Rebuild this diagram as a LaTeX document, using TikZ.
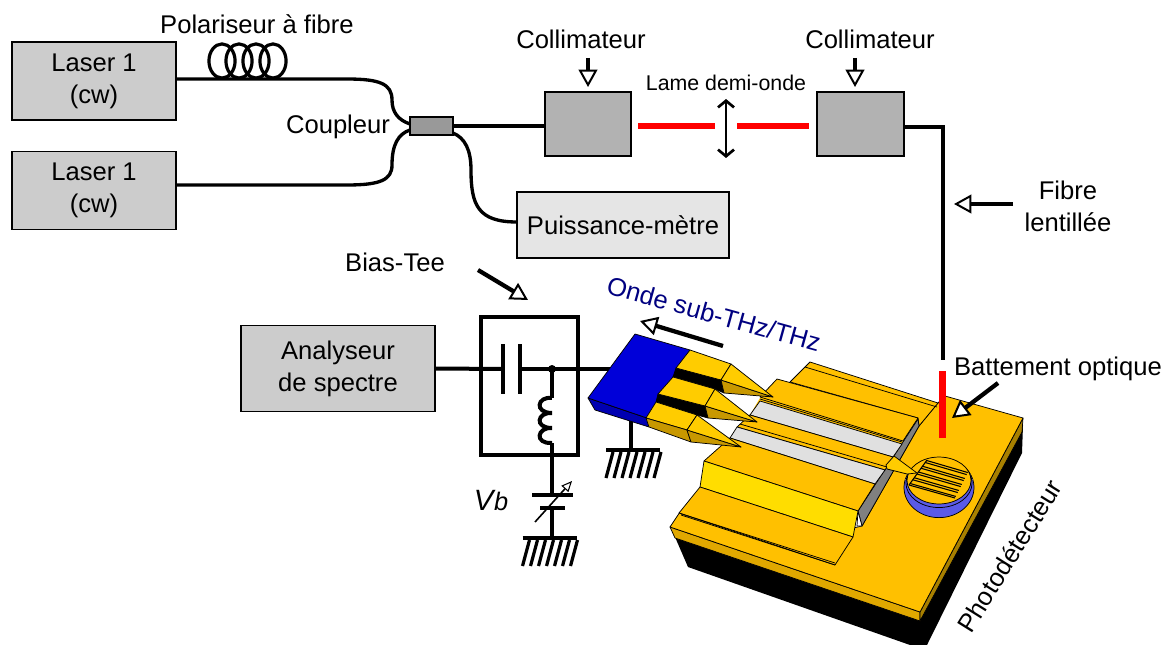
\documentclass[tikz,border=0pt]{standalone}
\usepackage{fontspec}
\setmainfont{Liberation Sans}
\usetikzlibrary{arrows.meta,calc}
\definecolor{chipO}{HTML}{FFC000}
\definecolor{chipY}{HTML}{FFDD00}
\definecolor{chipS}{HTML}{E0A800}
\definecolor{chipD}{HTML}{A88000}
\definecolor{padY}{HTML}{FFCC00}
\definecolor{padS}{HTML}{C89800}
\definecolor{wafer}{HTML}{5A5AE6}
\definecolor{stripG}{HTML}{E0E0E0}
\definecolor{navyT}{HTML}{000080}
\tikzset{
 x=0.75pt,y=-0.75pt,
 txt/.style={font=\fontsize{19.2}{24}\selectfont,inner sep=0pt,align=center,text=black},
 boxA/.style={draw=black,line width=0.8pt,fill=#1,txt,inner sep=0pt},
 fibre/.style={line width=2.5pt,black},
 openarrow/.style={line width=3.2pt,-{Triangle[open,fill=white,length=13pt,width=14pt,line width=1.5pt]}},
 wire/.style={line width=3pt},
 plate/.style={line width=3.2pt},
 thinE/.style={draw=black,line width=0.55pt,line join=round},
 redbeam/.style={red,line width=5pt},
}
\newcommand{\groundsym}[2]{%
 \draw[wire] (#1-27,#2) -- (#1+27,#2);
 \foreach \k in {0,...,6}{\draw[line width=2.4pt] (#1-20+\k*8,#2+2) -- (#1-27+\k*8,#2+28);}
}
\begin{document}
\begin{tikzpicture}
\useasboundingbox (0,0) rectangle (1167,645);
% ---------- boxes
\node[boxA=black!20,minimum width=123pt,minimum height=58.5pt] (laserA) at (94,81) {Laser 1\\(cw)};
\node[boxA=black!20,minimum width=123pt,minimum height=59pt] (laserB) at (94,190.5) {Laser 1\\(cw)};
\node[boxA=black!10,minimum width=159pt,minimum height=49.5pt] (power) at (623,225) {Puissance-mètre};
\node[boxA=black!30,minimum width=64.5pt,minimum height=48pt,line width=1.5pt] (collA) at (588,124) {};
\node[boxA=black!30,minimum width=65pt,minimum height=48pt,line width=1.5pt] (collB) at (860.5,124) {};
\node[boxA=black!20,minimum width=145.5pt,minimum height=64pt] (analyser) at (338,368.5) {Analyseur\\de spectre};
\node[draw=black,line width=1.5pt,fill=black!40,minimum width=32pt,minimum height=13.5pt,inner sep=0pt] (coupler) at (431.5,126) {};
% ---------- labels
\node[txt] (tPol) at (257,24) {Polariseur à fibre};
\node[txt] (tCoup) at (338,127) {Coupleur};
\node[txt] (tCollA) at (581,39) {Collimateur};
\node[txt] (tCollB) at (870,39) {Collimateur};
\node[txt,font=\fontsize{16}{20}\selectfont] (tLame) at (726,83) {Lame demi-onde};
\node[txt] (tFibre) at (1068,206) {Fibre\\lentillée};
\node[txt] (tBias) at (395,262) {Bias-Tee};
\node[txt,text=navyT,rotate=-15.5] (tOnde) at (714,314) {Onde sub-THz/THz};
\node[txt] (tBatt) at (1058,369) {Battement optique};
\node[txt,rotate=58] (tPhoto) at (1009.5,556) {Photodétecteur};
\node[txt,font=\fontsize{22}{24}\selectfont\itshape] (tVb) at (491,501) {V\kern0.5pt{\fontsize{19}{20}\selectfont b}};
% ---------- fibres
\coordinate (fA) at (176,79);
\coordinate (fB) at (176,185);
\coordinate (cA) at (410,124);
\coordinate (cB) at (410,130);
\coordinate (cC) at (453,133);
\coordinate (pIn) at (517,222);
\coordinate (collAin) at (545,126);
\draw[fibre] (fA) -- (347,79) .. controls (380,79) and (392,84) .. (392,100) .. controls (392,112) and (398,120) .. (cA);
\draw[fibre] (fB) -- (347,185) .. controls (380,185) and (392,180) .. (392,165) .. controls (392,145) and (398,134) .. (cB);
\draw[fibre] (coupler.east) -- (collAin);
\draw[fibre] (cC) .. controls (465,138) and (471,150) .. (471,170) .. controls (471,205) and (478,222) .. (pIn);
\foreach \cx in {222,239,256,273}{\draw[line width=2.4pt] (\cx,61) ellipse [x radius=9.8pt,y radius=12.8pt];}
% ---------- collimators and half-wave plate
\coordinate (aA) at (588,58); \coordinate (aAe) at (588,87);
\coordinate (aB) at (855,58); \coordinate (aBe) at (855,87);
\draw[line width=3.2pt,-{Triangle[open,fill=white,length=13pt,width=14pt,line width=1.5pt]}] (aA) -- (aAe);
\draw[line width=3.2pt,-{Triangle[open,fill=white,length=13pt,width=14pt,line width=1.5pt]}] (aB) -- (aBe);
\coordinate (rA) at (638,126); \coordinate (rB) at (715,126);
\coordinate (rC) at (737,126); \coordinate (rD) at (809,126);
\draw[redbeam] (rA) -- (rB);
\draw[redbeam] (rC) -- (rD);
\coordinate (dU) at (726,99); \coordinate (dL) at (726,158);
\draw[line width=2pt,{Straight Barb[length=5pt,width=12pt]}-{Straight Barb[length=5pt,width=12pt]}] (dU) -- (dL);
% ---------- chip
\fill[black] (675,537) -- (688,567) -- (910,645) -- (927,645) -- (1022,453) -- (1023,425) -- (920,615) -- cycle;
\path[fill=chipS,thinE] (670,527) -- (920,612) -- (920,621) -- (675,538) -- cycle;
\path[fill=chipD,thinE] (920,612) -- (1023,418) -- (1022,432) -- (920,621) -- cycle;
\path[fill=chipO,thinE] (670,527) -- (920,612) -- (1023,418) -- (945,396) -- (938,403) -- (919,426) -- (862,526) -- (845,530) -- (700,495) -- (680,512) -- cycle;
% backing of the mesas
\fill[chipO] (777,379) -- (918,418) -- (858,511) -- (704,461) -- (730,438) -- (737,427) -- (750,415) -- (760,398) -- cycle;
% rear ridge
\path[fill=chipO,thinE] (790,382) -- (810,362) -- (938,403) -- (919,426) -- (918,418) -- cycle;
\path[thinE] (805,367) -- (937,407);
% upper mesa
\path[fill=chipO,thinE] (777,379) -- (918,418) -- (903,441) -- (760,397) -- cycle;
% grey metal wall
\path[fill=black!50,thinE] (918,419) -- (919,426) -- (862,526) -- (858,511) -- cycle;
\path[fill=white,thinE] (858,511) -- (862,526) -- (857,526) -- cycle;
% strips
\path[fill=stripG,thinE] (760,401) -- (902,444) -- (893,457) -- (750,415) -- cycle;
\path[fill=chipO,thinE] (750,415) -- (893,457) -- (885,470) -- (737,427) -- cycle;
\path[fill=stripG,thinE] (737,427) -- (885,470) -- (875,484) -- (730,438) -- cycle;
\path[thinE] (760,399) -- (902,442);
\path[thinE] (740,424) -- (887,467);
% front mesa
\path[fill=chipO,thinE] (704,461) -- (730,438) -- (875,484) -- (858,511) -- cycle;
\path[fill=chipY,thinE] (700,487) -- (704,461) -- (858,511) -- (853,537) -- cycle;
\path[fill=chipO,thinE] (679,513) -- (700,487) -- (853,537) -- (835,565) -- cycle;
\path[thinE] (679,513) -- (835,563) (681,515) -- (835,565);
% wafer disk
\path[fill=wafer,thinE] (939,487.5) ellipse [x radius=26.25pt,y radius=22.6pt];
\foreach \a in {195,205,...,345}{\draw[wafer!55!white,line width=0.3pt] ($(939,487.5)+(\a:26pt and -22.2pt)$) -- ($(939,483)+(\a:24.5pt and -18.5pt)$);}
\path[thinE] (939,483) ellipse [x radius=24.8pt,y radius=18.4pt];
\path[fill=chipO,thinE] (939,480.5) ellipse [x radius=24pt,y radius=17.6pt];
\begin{scope}
 \clip (939,480.5) ellipse [x radius=24pt,y radius=17.6pt];
 \foreach \t in {0.02,0.10,0.25,0.33,0.48,0.56,0.71,0.79,0.94,1}{
  \draw[line width=0.8pt] ($(927,460)!\t!(909,485)$) -- ($(968,472)!\t!(955,498)$);}
 \draw[line width=0.8pt] (927,460) -- (909,485);
\end{scope}
% taper onto the disk
\path[fill=padY,thinE] (894,456) -- (917,473) -- (907,474) -- (887,469) -- (886,465) -- cycle;
% ---------- fibre onto chip and beam
\coordinate (fOut) at (905,127);
\coordinate (fEnd) at (943,360);
\draw[line width=3pt,line join=miter] (fOut) -- (943,127) -- (fEnd);
\coordinate (bTop) at (942.5,371); \coordinate (bEnd) at (942.5,438);
\draw[red,line width=5.6pt] (bTop) -- (bEnd);
% ---------- open arrows
\coordinate (fiA) at (1013,204); \coordinate (fiB) at (954,204);
\draw[openarrow] (fiA) -- (fiB);
\coordinate (biA) at (478,270); \coordinate (biB) at (528,300);
\draw[openarrow] (biA) -- (biB);
\coordinate (onA) at (723,346); \coordinate (onB) at (640,321);
\draw[openarrow] (onA) -- (onB);
\coordinate (btA) at (998,383); \coordinate (btB) at (952,418);
\draw[openarrow] (btA) -- (btB);
% ---------- bias tee
\node[draw=black,line width=3pt,minimum width=72.75pt,minimum height=103.5pt,inner sep=0pt] (tee) at (529.5,386) {};
\coordinate (pl) at (503,369); \coordinate (pr) at (520,369);
\coordinate (blueIn) at (612,369);
\draw[wire] (analyser.east) -- (pl);
\draw[wire] (pr) -- (blueIn);
\draw[plate] (503,344) -- (503,394);
\draw[plate] (520,344) -- (520,394);
\coordinate (dot) at (552,369);
\fill (dot) circle [radius=3pt];
\coordinate (lTop) at (552,398); \coordinate (lEnd) at (552,443);
\draw[wire] (dot) -- (lTop);
\draw[line width=3pt] (lTop) .. controls (537,396) and (534,413) .. (552,413)
  .. controls (537,412) and (534,428) .. (552,428)
  .. controls (537,427) and (534,444) .. (lEnd);
\coordinate (cT) at (552,495); \coordinate (cL) at (552,508);\coordinate (gA) at (552,537);
\draw[wire] (lEnd) -- (cT);
\draw[wire] (cL) -- (gA);
\draw[plate] (532,495) -- (573,495);
\draw[plate] (540,508) -- (565,508);
\coordinate (vA) at (535,522); \coordinate (vB) at (572,481);
\draw[line width=1.2pt,-{Triangle[open,fill=white,length=8pt,width=7pt,line width=0.8pt]}] (vA) -- (vB);
\groundsym{549.5}{538}
% ---------- ground of the probe
\coordinate (gStem) at (631,420); \coordinate (gB) at (631,450);
\draw[wire] (gStem) -- (gB);
\groundsym{633}{450}
% ---------- probe
\path[fill=blue!70!black,thinE] (588,398) -- (647,418) -- (649,427) -- (595,410) -- cycle;
\path[fill=blue!85!black,thinE] (635,334) -- (690,350) -- (647,418) -- (588,398) -- cycle;
% pads
\path[fill=black,thinE] (676,368) -- (721,380) -- (724,393) -- (715,389) -- (673,377) -- cycle;
\path[fill=black,thinE] (658,394) -- (705,406) -- (708,418) -- (697,415) -- (656,402) -- cycle;
\path[fill=padY,thinE] (690,350) -- (731,364) -- (721,380) -- (676,368) -- cycle;
\path[fill=padY,thinE] (673,377) -- (715,389) -- (705,406) -- (658,394) -- cycle;
\path[fill=padY,thinE] (656,402) -- (697,415) -- (687,430) -- (646,418) -- cycle;
\path[fill=padS,thinE] (646,418) -- (687,430) -- (691,442) -- (649,427) -- cycle;
% tips
\path[fill=padS,thinE] (721,380) -- (773,397) -- (724,393) -- cycle;
\path[fill=padY,thinE] (731,364) -- (773,397) -- (721,380) -- cycle;
\path[fill=padS,thinE] (705,406) -- (757,422) -- (708,418) -- cycle;
\path[fill=padY,thinE] (715,389) -- (757,422) -- (705,406) -- cycle;
\path[fill=padS,thinE] (687,430) -- (741,447) -- (691,442) -- cycle;
\path[fill=padY,thinE] (697,415) -- (741,447) -- (687,430) -- cycle;
\end{tikzpicture}
\end{document}
